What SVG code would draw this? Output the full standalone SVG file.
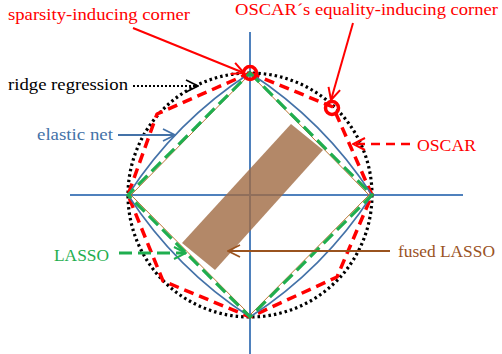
<svg xmlns="http://www.w3.org/2000/svg" width="502" height="354" viewBox="0 0 502 354">
<style>
.lbl { font-family: "Liberation Serif", "DejaVu Serif", "Times New Roman", serif; }
.axis { stroke: #4F81BD; stroke-width: 2; fill: none; }
.ridge { stroke: #000; stroke-width: 3.2; stroke-dasharray: 2.5 3; fill: none; }
.oscar { stroke: #FF0000; stroke-width: 3.5; stroke-dasharray: 10 6; fill: none; stroke-linejoin: round; }
.enet { stroke: #4472A8; stroke-width: 1.6; fill: none; }
.lasso { stroke: #1FAE4F; stroke-width: 3.2; stroke-dasharray: 13 6; fill: none; }
.fused { stroke: #B5651D; stroke-width: 0.9; fill: none; }
.mark { stroke: #FF0000; stroke-width: 3.5; fill: none; }
</style>
<defs>
<marker id="arRed" viewBox="0 0 14 14" refX="13" refY="7" markerWidth="14" markerHeight="14" markerUnits="userSpaceOnUse" orient="auto"><path d="M1,1 L13,7 L1,13" fill="none" stroke="#FF0000" stroke-width="2"/></marker>
<marker id="arBlack" viewBox="0 0 14 14" refX="13" refY="7" markerWidth="14" markerHeight="14" markerUnits="userSpaceOnUse" orient="auto"><path d="M1,1 L13,7 L1,13" fill="none" stroke="#000" stroke-width="1.6"/></marker>
<marker id="arBlue" viewBox="0 0 14 14" refX="13" refY="7" markerWidth="14" markerHeight="14" markerUnits="userSpaceOnUse" orient="auto"><path d="M1,1 L13,7 L1,13" fill="none" stroke="#4472A8" stroke-width="1.8"/></marker>
<marker id="arGreen" viewBox="0 0 14 14" refX="13" refY="7" markerWidth="14" markerHeight="14" markerUnits="userSpaceOnUse" orient="auto"><path d="M1,1 L13,7 L1,13" fill="none" stroke="#1FAE4F" stroke-width="2"/></marker>
<marker id="arBrown" viewBox="0 0 14 14" refX="13" refY="7" markerWidth="14" markerHeight="14" markerUnits="userSpaceOnUse" orient="auto"><path d="M1,1 L13,7 L1,13" fill="none" stroke="#9A531F" stroke-width="1.8"/></marker>
</defs>
<rect width="502" height="354" fill="#fff"/>
<g id="axes">
<line class="axis" x1="70" y1="195" x2="463" y2="195"/>
<line class="axis" x1="250" y1="32" x2="250" y2="354"/>
</g>
<g id="fused-band">
<polygon points="291,124 323,150 215,270 182,243" fill="#A06A42" fill-opacity="0.8"/>
</g>
<g id="ridge-regression">
<circle class="ridge" cx="250" cy="195" r="122"/>
</g>
<g id="oscar">
<polygon class="oscar" points="250,73 333,107 372,195 337,277 250,317 163,281 128,195 157,114"/>
</g>
<g id="elastic-net">
<path class="enet" d="M250,73 Q324,121 372,195 Q324,269 250,317 Q176,269 128,195 Q176,121 250,73 Z"/>
</g>
<g id="fused-lasso">
<polygon class="fused" points="250,74 369,195 250,315 131,195"/>
</g>
<g id="lasso">
<polygon class="lasso" points="250,73 372,195 250,317 128,195"/>
</g>
<g id="corner-marks">
<circle class="mark" cx="250" cy="73" r="6.5"/>
<circle class="mark" cx="332" cy="108" r="6.5"/>
</g>
<g id="connectors">
<line x1="133" y1="28" x2="244" y2="73" stroke="#FF0000" stroke-width="2" marker-end="url(#arRed)"/>
<line x1="353" y1="23" x2="331" y2="100" stroke="#FF0000" stroke-width="2" marker-end="url(#arRed)"/>
<line x1="133" y1="86" x2="198" y2="86" stroke="#000" stroke-width="2" stroke-dasharray="2 2" marker-end="url(#arBlack)"/>
<line x1="118" y1="135" x2="175" y2="135" stroke="#4472A8" stroke-width="2" marker-end="url(#arBlue)"/>
<line x1="410" y1="144" x2="353" y2="144" stroke="#FF0000" stroke-width="2.5" stroke-dasharray="9 6" marker-end="url(#arRed)"/>
<line x1="119" y1="253" x2="186" y2="253" stroke="#1FAE4F" stroke-width="3" stroke-dasharray="13 6" marker-end="url(#arGreen)"/>
<line x1="390" y1="251" x2="228" y2="251" stroke="#9A531F" stroke-width="2" marker-end="url(#arBrown)"/>
</g>
<g id="labels" font-family="'Liberation Serif', 'DejaVu Serif', serif">
<text class="lbl" x="8" y="20" font-size="16" fill="#FF0000" textLength="182" lengthAdjust="spacingAndGlyphs">sparsity-inducing corner</text>
<text class="lbl" x="235" y="15" font-size="17" fill="#FF0000" textLength="263" lengthAdjust="spacingAndGlyphs">OSCAR´s equality-inducing corner</text>
<text class="lbl" x="8" y="90" font-size="17" fill="#000" textLength="120" lengthAdjust="spacingAndGlyphs">ridge regression</text>
<text class="lbl" x="37" y="140" font-size="16" fill="#4472A8" textLength="76" lengthAdjust="spacingAndGlyphs">elastic net</text>
<text class="lbl" x="417" y="151" font-size="16.5" fill="#FF0000" textLength="59" lengthAdjust="spacingAndGlyphs">OSCAR</text>
<text class="lbl" x="54" y="261" font-size="16.5" fill="#1FAE4F" textLength="55" lengthAdjust="spacingAndGlyphs">LASSO</text>
<text class="lbl" x="398" y="257" font-size="16" fill="#9A531F" textLength="97" lengthAdjust="spacingAndGlyphs">fused LASSO</text>
</g>
</svg>
